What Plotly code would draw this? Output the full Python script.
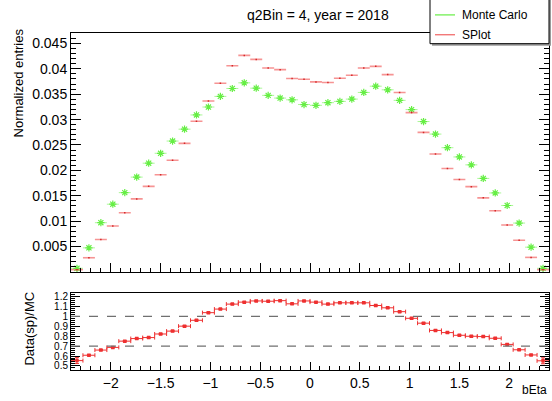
import plotly.graph_objects as go

# 40 bins of bEta over [-2.4, 2.4]
x_low, x_high, n_bins = -2.4, 2.4, 40
bin_width = (x_high - x_low) / n_bins
bin_centers = [round(x_low + bin_width * (i + 0.5), 4) for i in range(n_bins)]

mc_entries = [
    0.00072, 0.00475, 0.0097, 0.01334, 0.01562, 0.01868, 0.02142, 0.02337, 0.02578, 0.02812,
    0.03092, 0.03248, 0.03457, 0.03613, 0.03724, 0.03619, 0.03477, 0.03424, 0.03390, 0.03297,
    0.03281, 0.03333, 0.03359, 0.03404, 0.03535, 0.03658, 0.03587, 0.03379, 0.03197, 0.02962,
    0.02715, 0.02447, 0.02265, 0.02109, 0.01842, 0.01556, 0.01309, 0.00963, 0.00488, 0.00072,
]
splot_entries = [
    0.00045, 0.00280, 0.00638, 0.00905, 0.01165, 0.01439, 0.01686, 0.01914, 0.02201, 0.02533,
    0.02969, 0.03366, 0.03717, 0.04062, 0.04264, 0.04186, 0.04017, 0.03984, 0.03811, 0.03795,
    0.03743, 0.03730, 0.03814, 0.03873, 0.04017, 0.04049, 0.03886, 0.03535, 0.03138, 0.02748,
    0.02324, 0.02037, 0.01822, 0.01680, 0.01459, 0.01205, 0.00924, 0.00625, 0.00287, 0.00045,
]
ratio_values = [
    0.554, 0.608, 0.660, 0.687, 0.750, 0.776, 0.786, 0.822, 0.851, 0.901,
    0.960, 1.037, 1.073, 1.123, 1.143, 1.155, 1.152, 1.158, 1.126, 1.155,
    1.143, 1.123, 1.136, 1.136, 1.136, 1.109, 1.086, 1.047, 0.980, 0.931,
    0.858, 0.836, 0.809, 0.799, 0.796, 0.779, 0.717, 0.663, 0.611, 0.552,
]
ratio_errors = [0.03] + [0.006] * 38 + [0.03]

y_tick_vals = [0.005, 0.01, 0.015, 0.02, 0.025, 0.03, 0.035, 0.04, 0.045]
y_tick_text = ["0.005", "0.01", "0.015", "0.02", "0.025", "0.03", "0.035", "0.04", "0.045"]
r_tick_vals = [0.5, 0.6, 0.7, 0.8, 0.9, 1.0, 1.1, 1.2]
r_tick_text = ["0.5", "0.6", "0.7", "0.8", "0.9", "1", "1.1", "1.2"]
x_tick_vals = [-2, -1.5, -1, -0.5, 0, 0.5, 1, 1.5, 2]
x_tick_text = ["\u22122", "\u22121.5", "\u22121", "\u22120.5", "0", "0.5", "1", "1.5", "2"]
ref_lines = [1.0, 0.7]

W, H = 552, 401
GREEN = "#66ee44"
RED = "#ee3030"
FONT = "Liberation Sans, Arial, sans-serif"


def px_x(p):
    return p / W


def px_y(p):
    return 1 - p / H


fig = go.Figure()

fig.add_trace(go.Scatter(
    x=bin_centers, y=mc_entries, mode="markers", name="Monte Carlo",
    marker=dict(symbol="asterisk-open", size=6, color=GREEN, line=dict(color=GREEN, width=1.2)),
    error_x=dict(type="constant", value=bin_width / 2, width=0, thickness=1, color="rgba(102,238,68,0.55)"),
    xaxis="x", yaxis="y", showlegend=False,
))
fig.add_trace(go.Scatter(
    x=bin_centers, y=splot_entries, mode="markers", name="SPlot",
    marker=dict(symbol="square", size=1.5, color="rgba(210,30,30,0.9)", line=dict(width=0)),
    error_x=dict(type="constant", value=bin_width / 2, width=0, thickness=1.6, color="rgba(238,60,60,0.55)"),
    xaxis="x", yaxis="y", showlegend=False,
))
fig.add_trace(go.Scatter(
    x=bin_centers, y=ratio_values, mode="markers", name="ratio",
    marker=dict(symbol="square", size=3.5, color=RED),
    error_x=dict(type="constant", value=bin_width / 2, width=2, thickness=1, color=RED),
    error_y=dict(type="data", array=ratio_errors, width=2, thickness=1, color=RED),
    xaxis="x2", yaxis="y2", showlegend=False,
))

axis_common = dict(showgrid=False, zeroline=False, linecolor="black", linewidth=1,
                   ticks="inside", tickcolor="black")
tick_font = dict(family=FONT, size=14, color="black")

fig.update_layout(
    width=W, height=H, margin=dict(l=0, r=0, t=0, b=0),
    paper_bgcolor="white", plot_bgcolor="white",
    xaxis=dict(domain=[px_x(71), px_x(549)], range=[x_low, x_high], anchor="y",
               mirror=True, showticklabels=False, tickvals=x_tick_vals, ticklen=9,
               minor=dict(dtick=0.1, tick0=0, ticklen=4, ticks="inside", tickcolor="black"),
               tickfont=tick_font, **axis_common),
    yaxis=dict(domain=[px_y(272), px_y(31)], range=[0, 0.0471], anchor="x",
               mirror="ticks", tickvals=y_tick_vals, ticktext=y_tick_text, ticklen=10,
               minor=dict(dtick=0.001, tick0=0, ticklen=5, ticks="inside", tickcolor="black"),
               tickfont=tick_font, **axis_common),
    xaxis2=dict(domain=[px_x(71), px_x(549)], range=[x_low, x_high], anchor="y2",
                mirror=True, tickvals=x_tick_vals, ticktext=x_tick_text, ticklen=8,
                minor=dict(dtick=0.1, tick0=0, ticklen=4, ticks="inside", tickcolor="black"),
                tickfont=tick_font, **axis_common),
    yaxis2=dict(domain=[px_y(371), px_y(293)], range=[0.457, 1.237], anchor="x2",
                mirror="ticks", tickvals=r_tick_vals, ticktext=r_tick_text, ticklen=9,
                minor=dict(dtick=0.02, tick0=0, ticklen=4, ticks="inside", tickcolor="black"),
                tickfont=dict(family=FONT, size=10, color="black"), **axis_common),
)

# dashed reference lines in the ratio pad
for v in ref_lines:
    fig.add_shape(type="line", xref="x2", yref="y2", x0=x_low, x1=x_high, y0=v, y1=v,
                  line=dict(color="#707070", width=1.2, dash="dash"))

# legend box with shadow
fig.add_shape(type="rect", xref="paper", yref="paper",
              x0=px_x(432), x1=px_x(551), y0=px_y(44), y1=px_y(-5),
              line=dict(width=0), fillcolor="#9a9a9a")
fig.add_shape(type="rect", xref="paper", yref="paper",
              x0=px_x(430), x1=px_x(549), y0=px_y(42), y1=px_y(-5),
              line=dict(color="black", width=1), fillcolor="white")
legend_items = [("Monte Carlo", GREEN, 13), ("SPlot", "#f06060", 33)]
for label, col, ypx in legend_items:
    fig.add_shape(type="line", xref="paper", yref="paper",
                  x0=px_x(435), x1=px_x(455), y0=px_y(ypx), y1=px_y(ypx),
                  line=dict(color=col, width=1.2))
    fig.add_annotation(x=px_x(460), y=px_y(ypx), xref="paper", yref="paper", text=label,
                       showarrow=False, xanchor="left", yanchor="middle",
                       font=dict(family=FONT, size=12, color="black"))

# titles
fig.add_annotation(x=px_x(318), y=px_y(13), xref="paper", yref="paper",
                   text="q2Bin = 4, year = 2018", showarrow=False,
                   xanchor="center", yanchor="middle",
                   font=dict(family=FONT, size=14, color="black"))
fig.add_annotation(x=px_x(18), y=px_y(82), xref="paper", yref="paper",
                   text="Normalized entries", showarrow=False, textangle=-90,
                   xanchor="center", yanchor="middle",
                   font=dict(family=FONT, size=13, color="black"))
fig.add_annotation(x=px_x(30), y=px_y(329), xref="paper", yref="paper",
                   text="Data(sp)/MC", showarrow=False, textangle=-90,
                   xanchor="center", yanchor="middle",
                   font=dict(family=FONT, size=13, color="black"))
fig.add_annotation(x=px_x(549), y=px_y(400), xref="paper", yref="paper",
                   text="bEta", showarrow=False, xanchor="right", yanchor="bottom",
                   font=dict(family=FONT, size=12, color="black"))

fig.write_html("out.html")
